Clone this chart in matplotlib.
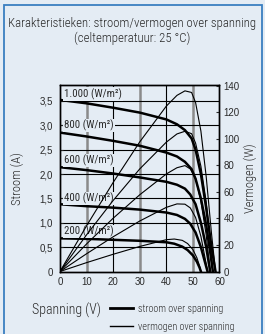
import matplotlib
matplotlib.use("Agg")
import matplotlib.pyplot as plt
from matplotlib.lines import Line2D
from matplotlib.patches import Rectangle

# --- data ---
irradiance_labels = ["1.000 (W/m²)", "800 (W/m²)", "600 (W/m²)", "400 (W/m²)", "200 (W/m²)"]
label_current = [3.64, 3.0, 2.28, 1.5, 0.82]

v_1000 = [0, 10, 20, 30, 40, 44, 47, 49.5, 51, 53, 55, 57, 58.5]
i_1000 = [3.52, 3.45, 3.36, 3.26, 3.12, 3.02, 2.9, 2.73, 2.5, 2.0, 1.3, 0.5, 0]
p_1000 = [0, 34.5, 67.2, 97.8, 124.8, 132.9, 136.3, 135.1, 127.5, 106.0, 71.5, 28.5, 0]

v_800 = [0, 10, 20, 30, 40, 44, 47, 49.5, 51, 53, 55, 56.5, 57.5]
i_800 = [2.85, 2.77, 2.68, 2.58, 2.44, 2.36, 2.25, 2.1, 1.9, 1.5, 0.95, 0.4, 0]
p_800 = [0, 27.7, 53.6, 77.4, 97.6, 103.8, 105.8, 104.0, 96.9, 79.5, 52.3, 22.6, 0]

v_600 = [0, 10, 20, 30, 40, 44, 47, 49, 51, 53, 55, 56.5]
i_600 = [2.14, 2.08, 2.01, 1.93, 1.84, 1.78, 1.7, 1.58, 1.38, 1.0, 0.5, 0]
p_600 = [0, 20.8, 40.2, 57.9, 73.6, 78.3, 79.9, 77.4, 70.4, 53.0, 27.5, 0]

v_400 = [0, 10, 20, 30, 40, 44, 47, 49, 51, 53, 54.5, 55.5]
i_400 = [1.38, 1.34, 1.31, 1.27, 1.21, 1.16, 1.08, 0.98, 0.8, 0.5, 0.2, 0]
p_400 = [0, 13.4, 26.2, 38.1, 48.4, 51.0, 50.8, 48.0, 40.8, 26.5, 10.9, 0]

v_200 = [0, 10, 20, 30, 40, 43, 46, 48, 50, 51.5, 52.5, 53]
i_200 = [0.68, 0.67, 0.65, 0.63, 0.6, 0.57, 0.51, 0.44, 0.33, 0.2, 0.08, 0]
p_200 = [0, 6.7, 13.0, 18.9, 24.0, 24.5, 23.5, 21.1, 16.5, 10.3, 4.2, 0]

voltages = [v_1000, v_800, v_600, v_400, v_200]
currents = [i_1000, i_800, i_600, i_400, i_200]
powers = [p_1000, p_800, p_600, p_400, p_200]

x_ticks = [0, 10, 20, 30, 40, 50, 60]
i_ticks = [0, 0.5, 1.0, 1.5, 2.0, 2.5, 3.0, 3.5]
i_tick_labels = ["0", "0,5", "1,0", "1,5", "2,0", "2,5", "3,0", "3,5"]
p_ticks = [0, 20, 40, 60, 80, 100, 120, 140]

bg = "#e4ecf4"
ink = "#2a2a2a"
narrow = ["Roboto Condensed", "Liberation Sans Narrow", "Liberation Sans", "DejaVu Sans"]
plt.rcParams["font.family"] = ["Liberation Sans", "DejaVu Sans"]

fig = plt.figure(figsize=(2.65, 3.34), dpi=100, facecolor=bg)
fig.patches.append(Rectangle((3.5 / 265, -0.1), 258.5 / 265, 1.085, transform=fig.transFigure,
                             facecolor="none", edgecolor="#3a7fc1", lw=1.3))

ax = fig.add_axes([60 / 265, 1 - 271.5 / 334, 159.5 / 265, 186.2 / 334])
ax.set_facecolor(bg)
ax2 = ax.twinx()

for v, i in zip(voltages, currents):
    ax.plot(v, i, color="black", lw=1.8, zorder=4)
for v, p in zip(voltages, powers):
    ax2.plot(v, p, color="black", lw=0.8, zorder=4)

ax.set_xlim(0, 60)
ax.set_ylim(0, 3.82)
ax2.set_ylim(0, 140.5)

# grid: grey thick at 10/30/50, thin black at 20/40
for xv in x_ticks[1:-1]:
    if xv % 20 == 0:
        ax.axvline(xv, color="black", lw=0.8, zorder=1)
    else:
        ax.axvline(xv, color="#8a8a8a", lw=1.8, zorder=1)
for yv in i_ticks[1:]:
    ax.axhline(yv, color="black", lw=0.8, zorder=1)

for lab, y in zip(irradiance_labels, label_current):
    ax.text(1.6, y, lab, fontsize=7.8, family=narrow, va="center", ha="left",
            color=ink, zorder=5,
            bbox=dict(facecolor=bg, edgecolor="none", pad=0.6))

ax.set_xticks(x_ticks)
ax.set_yticks(i_ticks)
ax.set_yticklabels(i_tick_labels)
ax2.set_yticks(p_ticks)
ax.tick_params(axis="both", direction="in", length=2.5, width=0.8, labelsize=7, pad=5,
               colors=ink)
ax.tick_params(axis="x", length=0, pad=4)
ax2.tick_params(axis="y", direction="in", length=2.5, width=0.8, labelsize=7, pad=3,
                colors=ink)
for a in (ax, ax2):
    for s in a.spines.values():
        s.set_linewidth(1.0)

ax.set_ylabel("Stroom (A)", family=narrow, fontweight="light", fontsize=9, labelpad=11,
              color=ink)
ax2.set_ylabel("Vermogen (W)", family=narrow, fontweight="light", fontsize=9, labelpad=3,
               color=ink)

fig.text(0.5, 1 - 24 / 334, "Karakteristieken: stroom/vermogen over spanning",
         family=narrow, fontweight="light", fontsize=9.3, ha="center", va="center", color=ink)
fig.text(0.5, 1 - 38 / 334, "(celtemperatuur: 25 °C)",
         family=narrow, fontweight="light", fontsize=9.3, ha="center", va="center", color=ink)

fig.text(32 / 265, 1 - 310 / 334, "Spanning (V)", family=narrow, fontweight="light",
         fontsize=10, ha="left", va="center", color=ink)

handles = [Line2D([], [], color="black", lw=2.0), Line2D([], [], color="black", lw=1.0)]
leg = fig.legend(handles, ["stroom over spanning", "vermogen over spanning"],
                 loc="upper left", bbox_to_anchor=(110 / 265, 1 - 304 / 334),
                 frameon=False, prop={"family": narrow, "size": 7.3, "weight": "light"},
                 handlelength=2.3, handletextpad=0.45, labelspacing=0.75,
                 borderpad=0, borderaxespad=0)
for t in leg.get_texts():
    t.set_color(ink)

fig.savefig("out.png", dpi=100, facecolor=bg)
